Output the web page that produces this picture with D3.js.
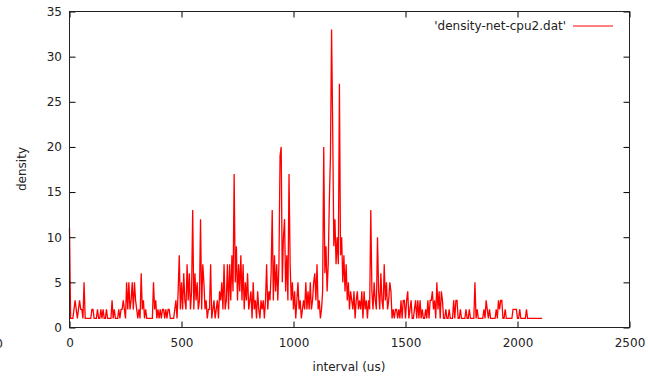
<!DOCTYPE html>
<html><head><meta charset="utf-8">
<script src="https://cdn.jsdelivr.net/npm/d3@7"></script>
<style>
html,body{margin:0;padding:0;background:#fff;}
svg{display:block;font-family:"DejaVu Sans",sans-serif;}
</style></head>
<body>
<svg id="chart" width="648" height="378"></svg>
<script>
// ---- data ----
const seriesName = "'density-net-cpu2.dat'";
const xTicks = [0, 500, 1000, 1500, 2000, 2500];
const yTicks = [0, 5, 10, 15, 20, 25, 30, 35];
const binWidth = 5; // interval (us) between consecutive samples, starting at 0
const density = [
  11,1,1,1,2,3,2,1,2,3,2,2,1,5,1,1,1,1,1,1,
  2,2,1,1,1,2,1,1,2,1,2,1,1,2,1,1,1,1,3,1,
  2,1,1,1,2,1,2,2,3,2,1,5,2,5,2,3,5,2,5,3,
  2,1,2,1,6,2,3,1,2,1,1,1,1,1,1,5,2,3,1,2,
  1,2,1,2,2,1,2,1,2,2,1,1,1,1,2,3,1,4,8,2,
  5,2,6,3,2,7,3,6,2,4,13,2,6,3,5,2,3,12,2,7,
  5,2,3,1,2,2,7,1,2,3,1,2,3,1,4,3,5,2,7,2,
  3,7,2,7,3,8,4,17,5,9,3,7,4,8,3,7,2,5,3,6,
  2,3,4,1,5,2,3,1,4,2,1,3,2,3,1,3,7,2,4,3,
  6,13,3,8,4,7,3,7,19,20,5,10,12,4,8,3,17,7,3,5,
  2,4,1,3,5,2,3,1,2,3,2,5,2,4,2,5,2,3,5,6,
  3,7,2,3,1,2,4,20,6,9,4,7,14,19,33,22,9,12,7,10,
  7,27,8,10,5,8,4,7,3,5,2,4,3,2,4,1,3,4,2,3,
  2,4,1,4,2,3,1,3,2,13,4,2,5,3,2,10,4,2,6,3,
  2,7,3,5,2,3,5,4,1,2,1,2,2,1,2,1,3,1,3,3,
  1,3,4,1,2,3,1,1,2,3,1,3,1,3,1,2,1,1,2,1,
  3,1,3,3,4,2,3,1,5,2,4,1,4,3,1,1,2,1,1,2,
  1,1,1,3,1,3,3,1,1,2,1,1,1,1,2,1,1,2,1,1,
  1,1,5,1,2,1,1,1,1,1,2,1,3,2,1,2,1,1,1,1,
  1,2,1,3,2,3,3,1,1,2,1,1,1,1,1,1,2,2,2,2,
  1,1,2,1,1,1,1,1,2,1,1,1,1,1,1,1,1,1,1,1,
  1,1,1
];

// ---- layout ----
const svg = d3.select("#chart");
const L = 69.5, R = 629.5, T = 11.5, B = 327.5;
const x = d3.scaleLinear().domain([0, 2500]).range([L, R]);
const y = d3.scaleLinear().domain([0, 35]).range([B, T]);
const textColor = "#222";

const points = density.map((d, i) => [i * binWidth, d]);

// data line
const line = d3.line().x(d => x(d[0])).y(d => y(d[1]));
svg.append("path").datum(points)
  .attr("d", line)
  .attr("fill", "none")
  .attr("stroke", "#ff0000")
  .attr("stroke-width", 1.3)
  .attr("stroke-linejoin", "miter");

// axes (ticks inward, mirrored)
function styleAxis(g, showText) {
  g.select(".domain").remove();
  g.selectAll(".tick line").attr("stroke", "#000").attr("stroke-width", 1);
  g.selectAll(".tick text").attr("fill", textColor).attr("font-size", 12)
    .attr("font-family", "'DejaVu Sans', sans-serif");
  if (!showText) g.selectAll(".tick text").remove();
}
const fmt = d3.format("d");
const gx = svg.append("g").attr("transform", `translate(0,${B})`)
  .call(d3.axisBottom(x).tickValues(xTicks).tickFormat(fmt).tickSizeInner(-6).tickSizeOuter(0));
styleAxis(gx, true);
gx.selectAll(".tick text").attr("dy", "0.71em").attr("y", 11);
const gxt = svg.append("g").attr("transform", `translate(0,${T})`)
  .call(d3.axisTop(x).tickValues(xTicks).tickSizeInner(-6).tickSizeOuter(0));
styleAxis(gxt, false);
const gy = svg.append("g").attr("transform", `translate(${L},0)`)
  .call(d3.axisLeft(y).tickValues(yTicks).tickFormat(fmt).tickSizeInner(-6).tickSizeOuter(0));
styleAxis(gy, true);
gy.selectAll(".tick text").attr("x", -7.5);
const gyr = svg.append("g").attr("transform", `translate(${R},0)`)
  .call(d3.axisRight(y).tickValues(yTicks).tickSizeInner(-6).tickSizeOuter(0));
styleAxis(gyr, false);

// border
svg.append("rect").attr("x", L).attr("y", T).attr("width", R - L).attr("height", B - T)
  .attr("fill", "none").attr("stroke", "#222").attr("stroke-width", 1);

// stray clipped label at far left (partly outside, as in the reference)
svg.append("text").attr("x", 3).attr("y", 347.5).attr("text-anchor", "end")
  .attr("font-size", 12).attr("fill", textColor).text("0");

// axis titles
svg.append("text").attr("x", 349).attr("y", 371).attr("text-anchor", "middle")
  .attr("font-size", 12).attr("fill", textColor).text("interval (us)");
svg.append("text").attr("transform", "translate(26,169) rotate(-90)")
  .attr("text-anchor", "middle").attr("font-size", 12).attr("fill", textColor).text("density");

// legend
svg.append("text").attr("x", 566).attr("y", 30).attr("text-anchor", "end")
  .attr("font-size", 12).attr("fill", textColor).text(seriesName);
svg.append("line").attr("x1", 573).attr("x2", 613).attr("y1", 26).attr("y2", 26)
  .attr("stroke", "#ff0000").attr("stroke-width", 1);
</script>
</body></html>
